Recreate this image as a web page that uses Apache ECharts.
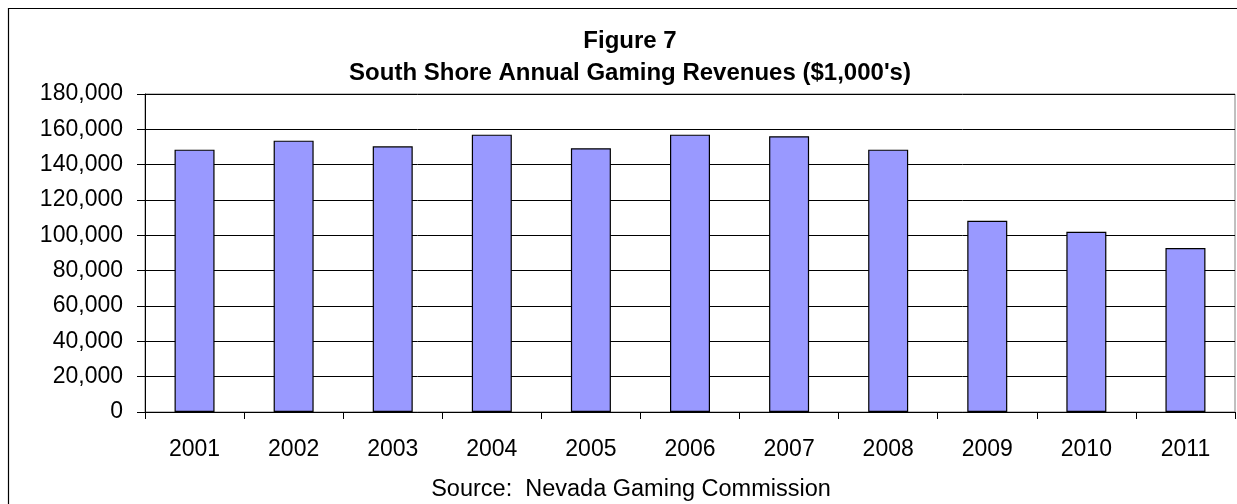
<!DOCTYPE html>
<html>
<head>
<meta charset="utf-8">
<style>
  html, body { margin: 0; padding: 0; background: #fff; }
  #chart { width: 1237px; height: 504px; }
</style>
<script src="https://cdn.jsdelivr.net/npm/echarts@6/dist/echarts.min.js"></script>
</head>
<body>
<div id="chart"></div>
<script>
// South Shore annual gaming revenues, thousands of dollars
const years = ['2001', '2002', '2003', '2004', '2005', '2006', '2007', '2008', '2009', '2010', '2011'];
const revenues = [148500, 153600, 150400, 157000, 149300, 157000, 156100, 148500, 108200, 102000, 92800];

const titleLines = ['Figure 7', "South Shore Annual Gaming Revenues ($1,000's)"];
const sourceNote = 'Source:  Nevada Gaming Commission';

const FONT = '"Liberation Sans", Arial, sans-serif';

const chart = echarts.init(document.getElementById('chart'), null, { renderer: 'canvas' });

const fmt = v => String(v).replace(/\B(?=(\d{3})+(?!\d))/g, ',');

chart.setOption({
  backgroundColor: '#ffffff',
  animation: false,
  title: [
    {
      text: titleLines.join('\n'),
      left: 625,
      top: 20,
      textAlign: 'center',
      textStyle: { fontFamily: FONT, fontSize: 24, fontWeight: 'bold', color: '#000', lineHeight: 32 }
    },
    {
      text: sourceNote,
      left: 626,
      top: 472,
      textAlign: 'center',
      textStyle: { fontFamily: FONT, fontSize: 23.5, fontWeight: 'normal', color: '#000', lineHeight: 26 }
    }
  ],
  graphic: [
    {
      type: 'rect',
      shape: { x: 8.5, y: 8.5, width: 1260, height: 520 },
      style: { fill: 'none', stroke: '#000', lineWidth: 1.2 },
      silent: true,
      z: 0
    }
  ],
  grid: {
    left: 145,
    top: 94,
    width: 1090,
    height: 318,
    show: true,
    borderColor: '#808080',
    borderWidth: 1,
    backgroundColor: 'transparent'
  },
  xAxis: {
    type: 'category',
    data: years,
    boundaryGap: true,
    axisLine: { show: true, lineStyle: { color: '#000', width: 1 } },
    axisTick: { show: true, alignWithLabel: false, length: 7, lineStyle: { color: '#000' } },
    axisLabel: { fontFamily: FONT, fontSize: 23, color: '#000', margin: 26 },
    splitLine: { show: false }
  },
  yAxis: {
    type: 'value',
    min: 0,
    max: 180000,
    interval: 20000,
    axisLine: { show: true, lineStyle: { color: '#000', width: 1 } },
    axisTick: { show: true, inside: false, length: 8, lineStyle: { color: '#000' } },
    axisLabel: { fontFamily: FONT, fontSize: 23, color: '#000', margin: 22, formatter: fmt },
    splitLine: { show: true, lineStyle: { color: '#000', width: 1 } }
  },
  series: [
    {
      type: 'bar',
      data: revenues,
      barWidth: 40,
      itemStyle: { color: '#9999FF', borderColor: '#000', borderWidth: 1.2 }
    }
  ]
});
</script>
</body>
</html>
